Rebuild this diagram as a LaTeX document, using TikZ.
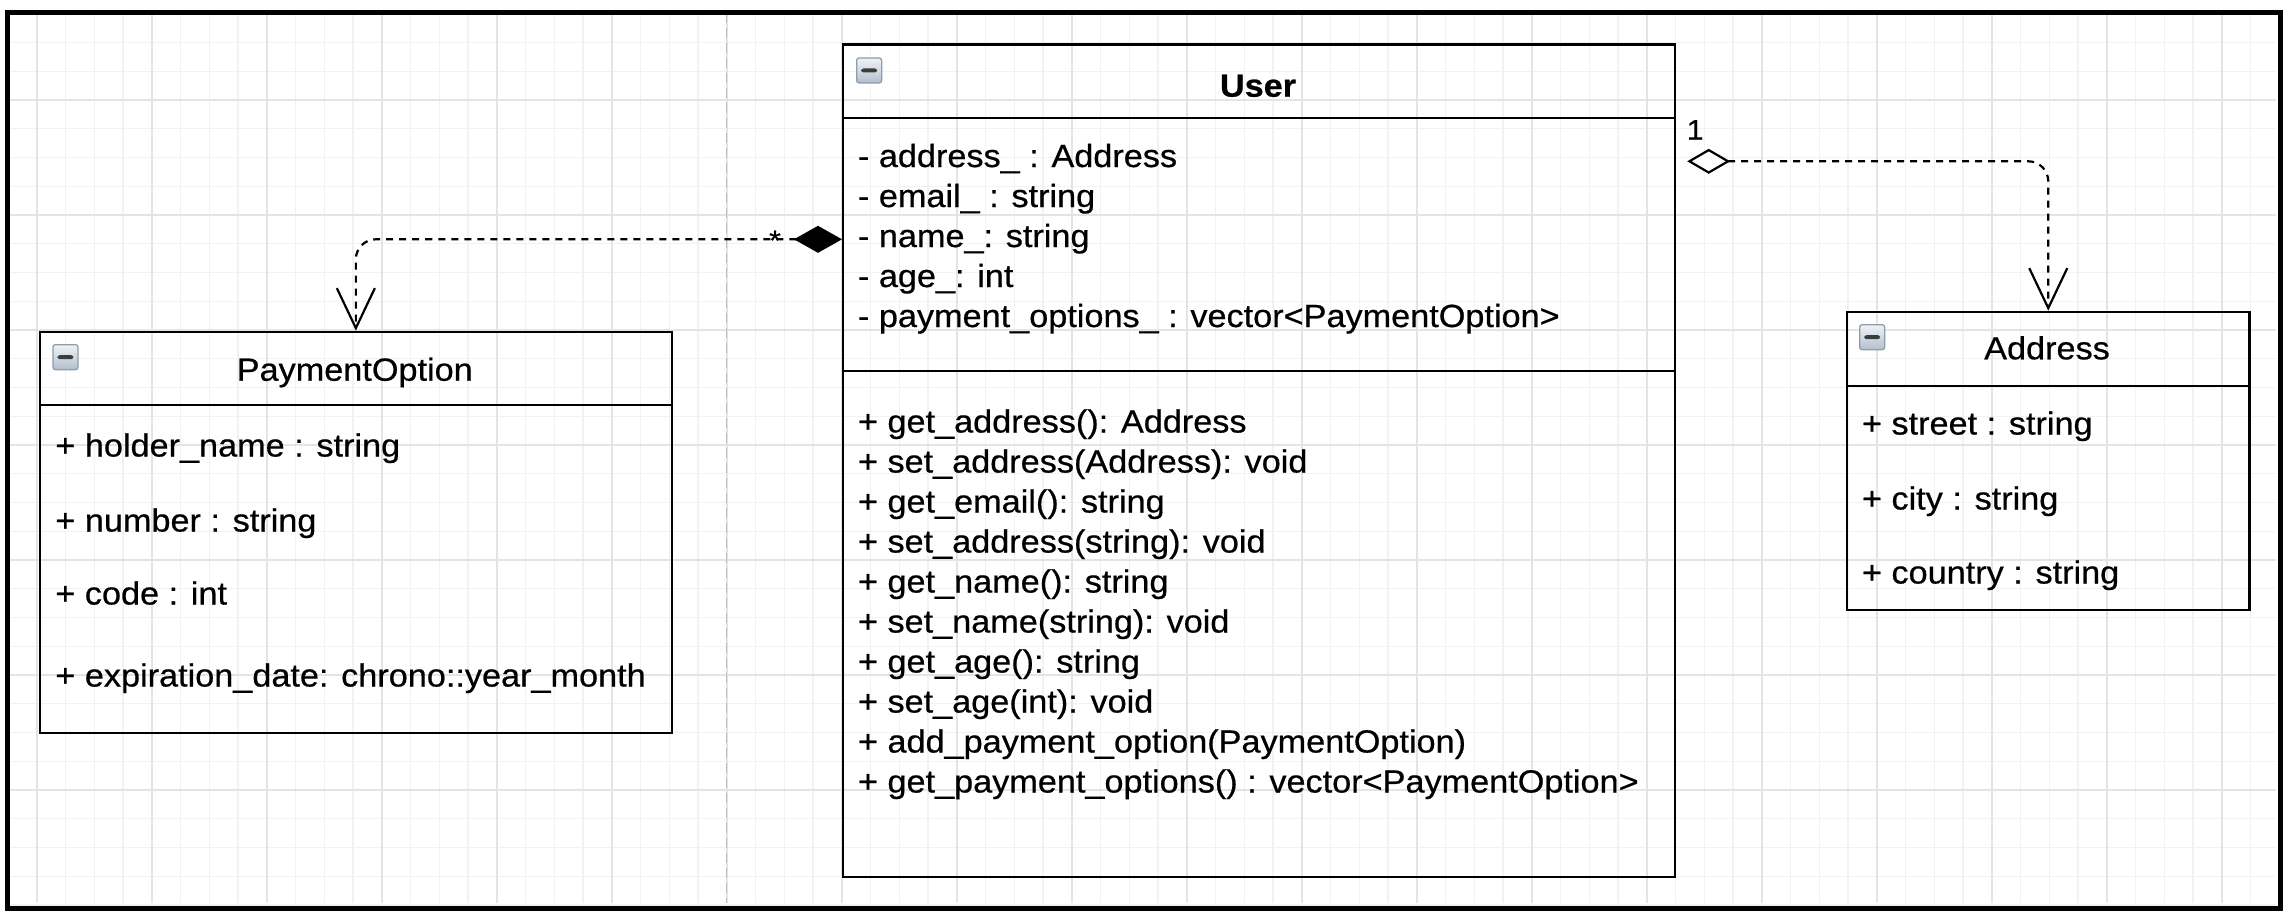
\documentclass[tikz,border=0pt]{standalone}
\usepackage{fontspec}
\setmainfont{Liberation Sans}[FakeStretch=1.07,FakeBold=0.6]
\usetikzlibrary{arrows.meta,calc}
\definecolor{ict}{HTML}{F0F3F7}
\definecolor{icbm}{HTML}{B3BFCC}
\definecolor{icb}{HTML}{8E9CAC}
\definecolor{icbar}{HTML}{3C3C3C}
\definecolor{gminor}{HTML}{F2F2F2}
\definecolor{gmajor}{HTML}{E4E4E4}
\definecolor{pbreak}{HTML}{BDBDBD}
\begin{document}
\begin{tikzpicture}[x=1pt,y=-1pt,
  minorg/.style={draw=gminor, line width=1.3pt},
  majorg/.style={draw=gmajor, line width=1.6pt},
  classbox/.style={draw, line width=2.2pt, inner sep=0pt, anchor=north west},
  sepline/.style={line width=2.2pt},
  ttl/.style={inner sep=0pt, anchor=base, font=\fontsize{32}{38}\selectfont},
  txt/.style={inner sep=0pt, anchor=base west, font=\fontsize{32}{38}\selectfont},
  lbl/.style={inner sep=0pt, font=\fontsize{28}{33}\selectfont},
  icon/.style={draw=icb, line width=1.3pt, rounded corners=2.5pt, minimum width=25pt,
    minimum height=25pt, inner sep=0pt, anchor=north west, top color=ict, bottom color=icbm,
    path picture={\fill[icbar] ([xshift=-8pt,yshift=-2pt]path picture bounding box.center)
      rectangle ([xshift=8pt,yshift=2pt]path picture bounding box.center);}},
  conn/.style={line width=2.2pt, dash pattern=on 7pt off 6pt, rounded corners=20pt},
  pagebreak/.style={draw=pbreak, line width=1.5pt, dash pattern=on 10pt off 5pt}
]
\useasboundingbox (0,0) rectangle (2290,916);
\fill[white] (0,0) rectangle (2290,916);
% grid
\foreach \k in {-1,...,77} \draw[minorg] ({36.7+28.75*\k},12.5) -- ({36.7+28.75*\k},903.3);
\foreach \k in {-3,...,28} \draw[minorg] (7,{100+28.75*\k}) -- (2275.5,{100+28.75*\k});
\foreach \k in {0,...,19} \draw[majorg] ({36.7+115*\k},12.5) -- ({36.7+115*\k},903.3);
\foreach \k in {0,...,6} \draw[majorg] (7,{100+115*\k}) -- (2275.5,{100+115*\k});
\draw[pagebreak] (726.7,12.5) -- (726.7,903.3);
% frame
\node[draw, line width=5pt, minimum width=2273.4pt, minimum height=895.8pt, inner sep=0pt,
  anchor=north west] (frame) at (4.6,10) {};
% class boxes
\node[classbox, minimum width=832pt, minimum height=832.7pt] (user) at (842,43.3) {};
\node[classbox, minimum width=631.5pt, minimum height=401.3pt] (pay) at (39,330.7) {};
\node[classbox, minimum width=402.3pt, minimum height=298.3pt] (addr) at (1846,310.7) {};
\draw[sepline] ($(user.north west)+(0,75)$) -- ($(user.north east)+(0,75)$);
\draw[sepline] ($(user.north west)+(0,327.4)$) -- ($(user.north east)+(0,327.4)$);
\draw[sepline] ($(pay.north west)+(0,74.3)$) -- ($(pay.north east)+(0,74.3)$);
\draw[sepline] ($(addr.north west)+(0,75)$) -- ($(addr.north east)+(0,75)$);
% icons
\node[icon] (userI) at ($(user.north west)+(14,14)$) {};
\node[icon] (payI) at ($(pay.north west)+(13.3,13.3)$) {};
\node[icon] (addrI) at ($(addr.north west)+(13,13.3)$) {};
% titles
\node[ttl] (userT) at (1258,96.7) {\bfseries User};
\node[ttl] (payT) at (354.75,380.7) {PaymentOption};
\node[ttl] (addrT) at (2047,359.3) {Address};
% User attributes
\foreach \t [count=\i from 0] in {- address\_ : Address, - email\_ : string, - name\_: string,
  - age\_: int, - payment\_options\_ : vector<PaymentOption>}
  \node[txt] (ua\i) at (857.8,{167+40*\i}) {\t};
% User methods
\foreach \t [count=\i from 0] in {+ get\_address(): Address, + set\_address(Address): void,
  + get\_email(): string, + set\_address(string): void, + get\_name(): string,
  + set\_name(string): void, + get\_age(): string, + set\_age(int): void,
  + add\_payment\_option(PaymentOption), + get\_payment\_options() : vector<PaymentOption>}
  \node[txt] (um\i) at (857.8,{432.5+40*\i}) {\t};
% PaymentOption attributes
\node[txt] (pa0) at (55.2,456.5) {+ holder\_name : string};
\node[txt] (pa1) at (55.2,531.5) {+ number : string};
\node[txt] (pa2) at (55.2,604.5) {+ code : int};
\node[txt] (pa3) at (55.2,686.5) {+ expiration\_date: chrono::year\_month};
% Address attributes
\node[txt] (aa0) at (1861.8,434.5) {+ street : string};
\node[txt] (aa1) at (1861.8,509.5) {+ city : string};
\node[txt] (aa2) at (1861.8,583.5) {+ country : string};
% connectors
\coordinate (compS) at ($(user.north west)+(0,196)$);
\coordinate (aggS) at ($(user.north east)+(11,118)$);
\draw[conn, {Diamond[length=48pt,width=27pt,fill=black]}-{Straight Barb[length=40pt,width=38pt]}]
  (compS) -| (pay.north);
\draw[conn, {Diamond[length=43pt,width=25pt,fill=white]}-{Straight Barb[length=40pt,width=38pt]}]
  (aggS) -| (addr.north);
\node[lbl, anchor=base] (star) at (775,250) {*};
\node[lbl, anchor=base west] (one) at (1686.6,139.5) {1};
\end{tikzpicture}
\end{document}
